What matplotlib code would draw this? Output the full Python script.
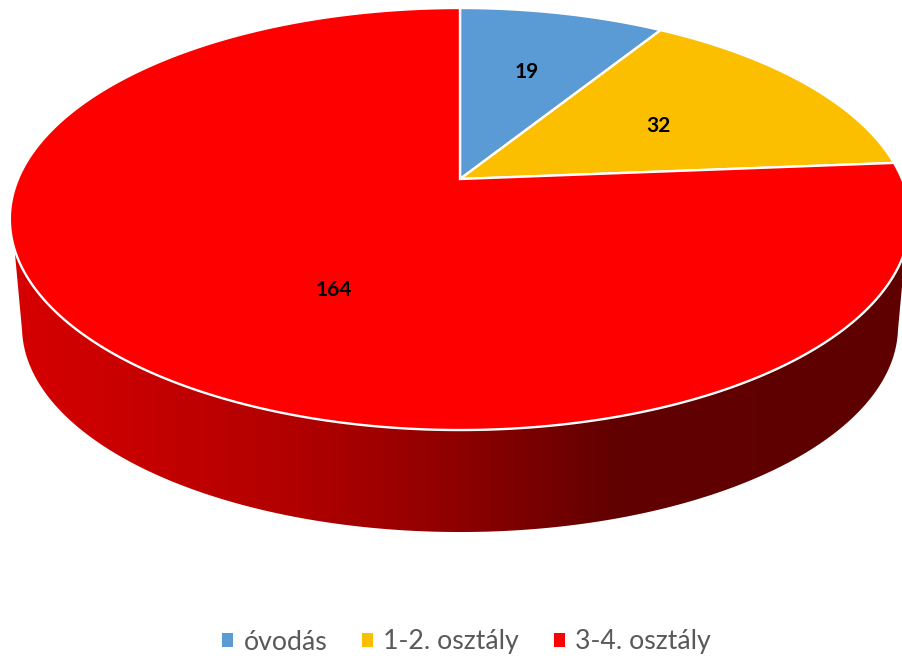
import numpy as np
import matplotlib
matplotlib.use('Agg')
import matplotlib.pyplot as plt
from matplotlib.colors import LinearSegmentedColormap
from matplotlib.patches import Polygon, Rectangle

categories = ['óvodás', '1-2. osztály', '3-4. osztály']
values = [19, 32, 164]
colors = ['#5B9BD5', '#FCBF00', '#FF0000']


# pie seen in perspective: unit circle -> pixel position
def project(theta, r=1.0):
    u = r * np.sin(theta)
    v = r * np.cos(theta)
    w = 1 + 0.1896 * v
    return 460 + 442 * u / w, (179 - 169.5 * v) / w


def bottom(x, y):
    # lower rim is the top rim a bit smaller and moved down
    return 460 + 0.973 * (x - 460), 0.973 * y + 113.6


plt.rcParams['font.family'] = ['Lato', 'DejaVu Sans']
fig = plt.figure(figsize=(9.03, 6.56), dpi=100)
ax = fig.add_axes([0, 0, 1, 1])
ax.set_xlim(0, 903)
ax.set_ylim(656, 0)
ax.axis('off')

# side wall, filled with a left to right gradient
t_top = np.radians(np.linspace(109, 251, 200))
t_bot = np.radians(np.linspace(102, 258, 200))
xt, yt = project(t_top)
xb, yb = bottom(*project(t_bot))
wall = Polygon(np.column_stack([np.r_[xt, xb[::-1]], np.r_[yt, yb[::-1]]]),
               closed=True, fc='none', ec='none')
ax.add_patch(wall)
cmap = LinearSegmentedColormap.from_list('wall', [
    (0.0, '#D80000'), (0.17, '#C40000'), (0.33, '#B00000'),
    (0.5, '#900000'), (0.68, '#620000'), (1.0, '#5E0000')])
img = ax.imshow(np.linspace(0, 1, 400).reshape(1, -1), cmap=cmap,
                extent=(0, 903, 656, 0), aspect='auto', zorder=1)
img.set_clip_path(wall)

# top face
total = sum(values)
edges = np.cumsum([0] + values) / total * 2 * np.pi
for i in range(len(values)):
    t = np.linspace(edges[i], edges[i + 1], 300)
    x, y = project(t)
    pts = np.column_stack([np.r_[460, x], np.r_[179, y]])
    ax.add_patch(Polygon(pts, closed=True, fc=colors[i], ec='white', lw=1.7,
                         joinstyle='miter', zorder=2))

# value labels
label_pos = [(527, 72), (658, 126), (334, 290)]
for val, (lx, ly) in zip(values, label_pos):
    ax.text(lx, ly, str(val), ha='center', va='center', fontsize=15,
            fontweight='bold', color='black', zorder=3)

handles = [Rectangle((0, 0), 1, 1, fc=c) for c in colors]
ax.legend(handles, categories, loc='center', bbox_to_anchor=(466.5 / 903, 1 - 642 / 656),
          ncol=3, frameon=False, fontsize=19.2, labelcolor='#595959',
          handlelength=0.42, handleheight=0.42, handletextpad=0.38,
          columnspacing=1.3, borderpad=0, borderaxespad=0)

fig.savefig('out.png', dpi=100)
